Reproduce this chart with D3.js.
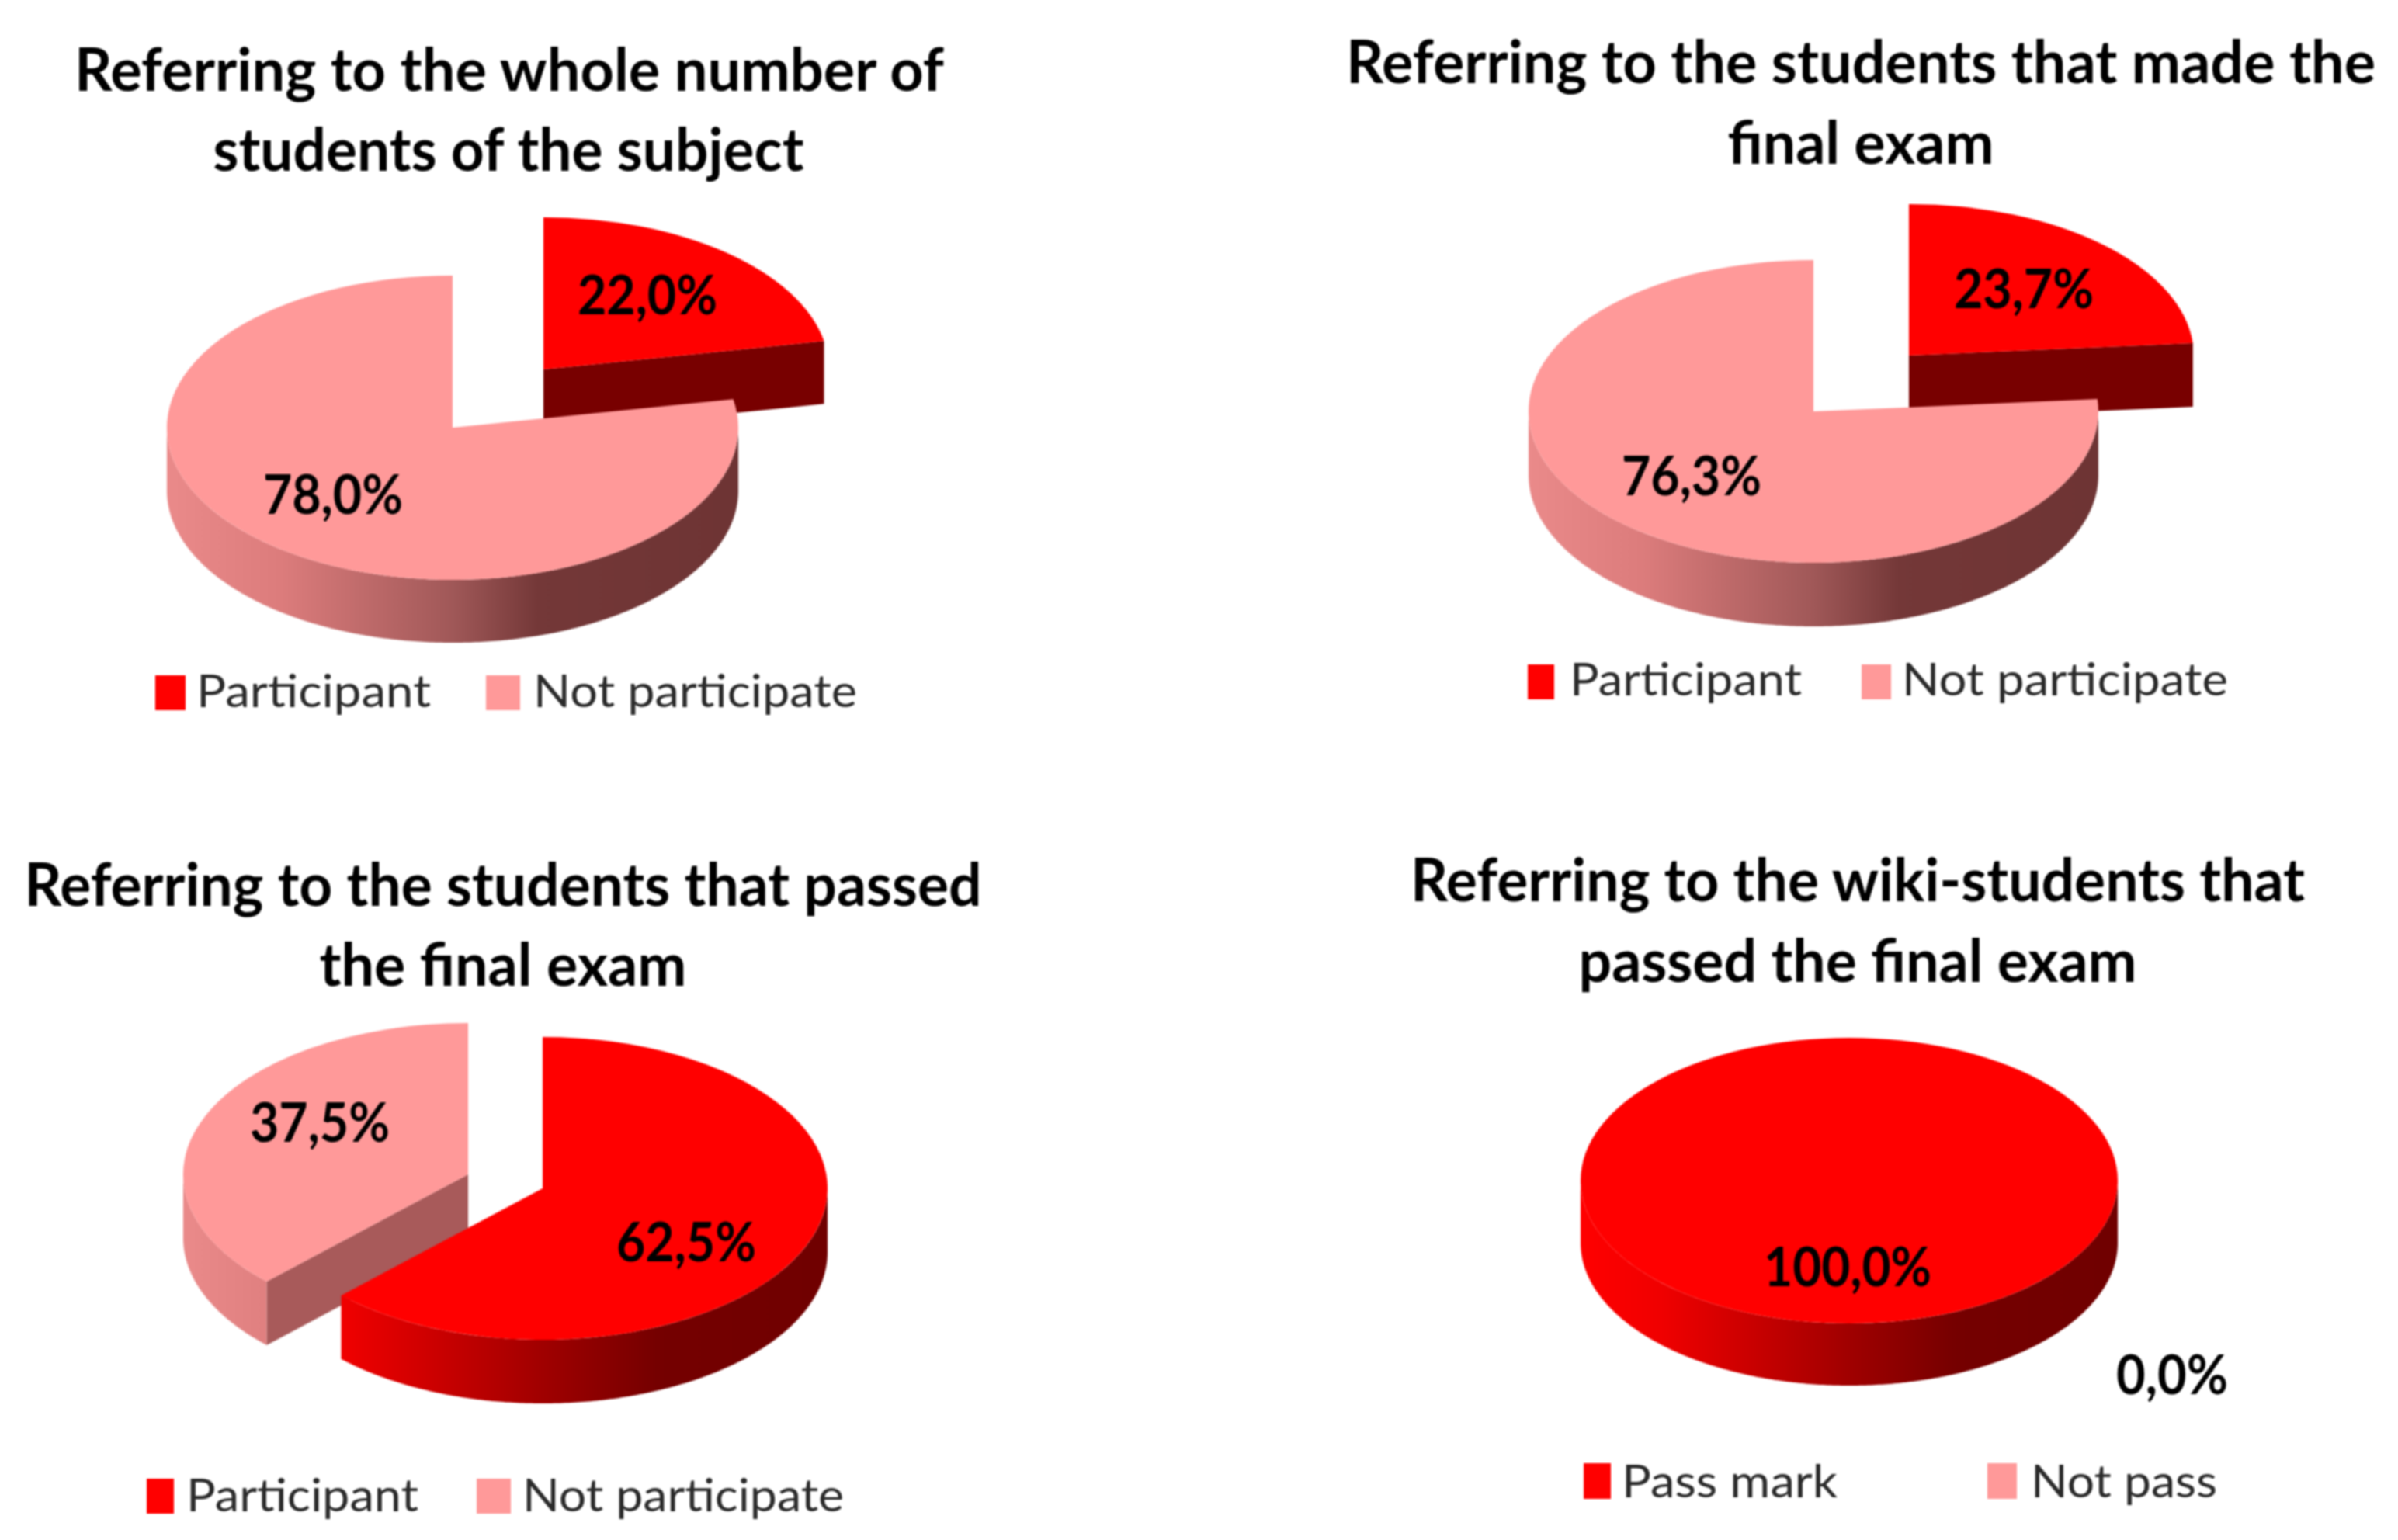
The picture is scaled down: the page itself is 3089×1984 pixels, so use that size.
<!DOCTYPE html>
<html>
<head>
<meta charset="utf-8">
<script src="https://cdn.jsdelivr.net/npm/d3@7"></script>
<style>
  html, body { margin: 0; background: #fff; }
  svg { filter: blur(1px); }
  text { font-family: Lato, "Open Sans", sans-serif; }
</style>
</head>
<body>
<svg id="chart" width="3089" height="1984"></svg>
<script>
// data
const titles = [
  ["Referring to the whole number of", "students of the subject"],
  ["Referring to the students that made the", "final exam"],
  ["Referring to the students that passed", "the final exam"],
  ["Referring to the wiki-students that", "passed the final exam"]
];
const categories = [
  ["Participant", "Not participate"],
  ["Participant", "Not participate"],
  ["Participant", "Not participate"],
  ["Pass mark", "Not pass"]
];
const wholeStudents = [22.0, 78.0];
const finalExamStudents = [23.7, 76.3];
const passedStudents = [62.5, 37.5];
const wikiStudents = [100.0, 0.0];
const values = [wholeStudents, finalExamStudents, passedStudents, wikiStudents];

// layout of the four panels, in page pixels
const panels = [
  {
    rx: 368, ry: 196,
    centers: [[700, 476], [583, 551]],
    order: [0, 1],
    labelPos: [[834, 405], [429, 662]],
    titlePos: [[656, 117, 1120], [655, 220, 761]],
    swatches: [[200, 870, 39, 45], [626, 870, 44, 45]],
    legendText: [[253, 911, 302], [687, 911, 417]],
    depth: 81
  },
  {
    rx: 367, ry: 195,
    centers: [[2459, 458], [2336, 530]],
    order: [0, 1],
    labelPos: [[2607, 397], [2179, 638]],
    titlePos: [[2397, 107, 1326], [2397, 211, 343]],
    swatches: [[1968, 856, 34, 45], [2398, 856, 38, 45]],
    legendText: [[2022, 896, 299], [2450, 896, 420]],
    depth: 82
  },
  {
    rx: 367, ry: 195,
    centers: [[699, 1531], [603, 1513]],
    order: [1, 0],
    labelPos: [[884, 1625], [412, 1471]],
    titlePos: [[648, 1167, 1233], [648, 1270, 473]],
    swatches: [[189, 1905, 35, 45], [614, 1905, 44, 45]],
    legendText: [[240, 1947, 299], [673, 1947, 414]],
    depth: 82
  },
  {
    rx: 346, ry: 184,
    centers: [[2382, 1521], [2382, 1521]],
    order: [1, 0],
    labelPos: [[2380, 1657], [2798, 1796]],
    titlePos: [[2393, 1161, 1152], [2393, 1265, 719]],
    swatches: [[2040, 1885, 35, 46], [2560, 1885, 38, 46]],
    legendText: [[2089, 1929, 278], [2616, 1929, 240]],
    depth: 80
  }
];

const topColors = ["#ff0000", "#ff9999"];
const cutColors = ["#780000", "#a85a5a"];
const wallStops = [
  [[0, "#ff0000"], [0.15, "#f00000"], [0.5, "#a00000"], [0.7, "#750000"], [1, "#700000"]],
  [[0, "#ea8a8a"], [0.2, "#dc7c7c"], [0.5, "#a05858"], [0.65, "#743838"], [1, "#6e3434"]]
];
const labelCharWidth = 36;
const decimalComma = d3.format(".1f");

const svg = d3.select("#chart");
const defs = svg.append("defs");
const pie = d3.pie().sort(null);
const line = d3.line();

panels.forEach(function(p, pi) {
  const g = svg.append("g");
  const slices = pie(values[pi]);

  // point on the rim of the tilted disc
  const rim = function(c, a, drop) {
    return [c[0] + p.rx * Math.sin(a), c[1] - p.ry * Math.cos(a) + drop];
  };

  p.order.forEach(function(si) {
    const s = slices[si];
    if (s.value === 0) return;
    const c = p.centers[si];

    // cut face, only when it looks towards the viewer
    [[s.endAngle, 1], [s.startAngle, -1]].forEach(function(face) {
      const a = face[0];
      if (face[1] * Math.sin(a) <= 1e-6 || s.endAngle - s.startAngle >= 2 * Math.PI - 1e-6) return;
      g.append("path")
        .attr("d", line([[c[0], c[1]], rim(c, a, 0), rim(c, a, p.depth), [c[0], c[1] + p.depth]]) + "Z")
        .attr("fill", cutColors[si]);
    });

    // outer wall, lower half of the rim
    const from = Math.max(s.startAngle, Math.PI / 2);
    const to = Math.min(s.endAngle, 3 * Math.PI / 2);
    if (to > from) {
      const gradId = "wall-" + pi + "-" + si;
      const grad = defs.append("linearGradient")
        .attr("id", gradId)
        .attr("gradientUnits", "userSpaceOnUse")
        .attr("x1", c[0] - p.rx).attr("x2", c[0] + p.rx)
        .attr("y1", 0).attr("y2", 0);
      wallStops[si].forEach(function(st) {
        grad.append("stop").attr("offset", st[0]).attr("stop-color", st[1]);
      });
      const angles = d3.range(from, to, 0.01).concat([to]);
      const pts = angles.map(a => rim(c, a, 0))
        .concat(angles.slice().reverse().map(a => rim(c, a, p.depth)));
      g.append("path")
        .attr("d", line(pts) + "Z")
        .attr("fill", `url(#${gradId})`);
    }

    // top face
    const arc = d3.arc().innerRadius(0).outerRadius(p.rx);
    g.append("path")
      .attr("d", arc(s))
      .attr("transform", `translate(${c[0]},${c[1]}) scale(1,${p.ry / p.rx})`)
      .attr("fill", topColors[si]);
  });

  // value labels
  values[pi].forEach(function(v, i) {
    const str = decimalComma(v).replace(".", ",") + "%";
    g.append("text")
      .attr("x", p.labelPos[i][0])
      .attr("y", p.labelPos[i][1])
      .attr("text-anchor", "middle")
      .attr("font-size", 70)
      .attr("font-weight", 700)
      .attr("fill", "#000")
      .attr("textLength", str.length * labelCharWidth)
      .attr("lengthAdjust", "spacingAndGlyphs")
      .text(str);
  });

  // title
  titles[pi].forEach(function(t, i) {
    g.append("text")
      .attr("x", p.titlePos[i][0])
      .attr("y", p.titlePos[i][1])
      .attr("text-anchor", "middle")
      .attr("font-size", 76)
      .attr("font-weight", 700)
      .attr("fill", "#000")
      .attr("textLength", p.titlePos[i][2])
      .attr("lengthAdjust", "spacingAndGlyphs")
      .text(t);
  });

  // legend
  categories[pi].forEach(function(name, i) {
    g.append("rect")
      .attr("x", p.swatches[i][0]).attr("y", p.swatches[i][1])
      .attr("width", p.swatches[i][2]).attr("height", p.swatches[i][3])
      .attr("fill", topColors[i]);
    g.append("text")
      .attr("x", p.legendText[i][0])
      .attr("y", p.legendText[i][1])
      .attr("font-size", 58)
      .attr("fill", "#2a2a2a")
      .attr("textLength", p.legendText[i][2])
      .attr("lengthAdjust", "spacingAndGlyphs")
      .text(name);
  });
});
</script>
</body>
</html>
